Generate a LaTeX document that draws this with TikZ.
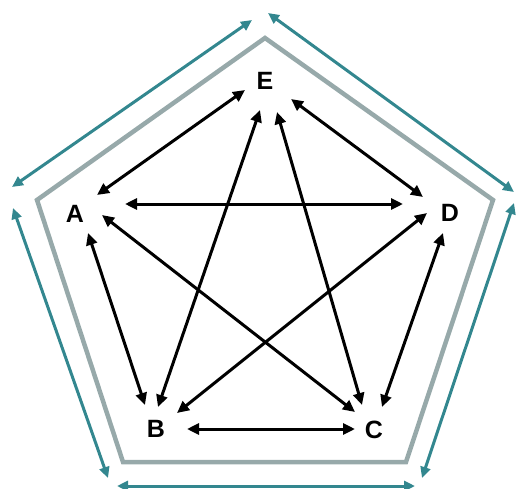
\documentclass[tikz,border=0pt]{standalone}
\usepackage{fontspec}
\setmainfont{Liberation Sans}
\usetikzlibrary{arrows.meta}
\definecolor{frameCol}{HTML}{97A9AA}
\definecolor{tealCol}{HTML}{33878F}

\begin{document}
\begin{tikzpicture}[
    x=1pt, y=-1pt,
    lbl/.style={inner sep=0pt, font=\fontsize{25}{29}\selectfont\bfseries},
    arr/.style={{Triangle[length=12pt,width=11pt]}-{Triangle[length=12pt,width=11pt]},
      line width=3pt, black},
    side/.style={{Triangle[length=11pt,width=10pt]}-{Triangle[length=11pt,width=10pt]},
      line width=3pt, tealCol},
  ]
\useasboundingbox (0,0) rectangle (516,489);

% Outer frame
\draw[frameCol, line width=4.5pt, line join=miter]
  (265,38) -- (493,200) -- (406,462) -- (123,462) -- (37,200) -- cycle;

% Corners of the teal arrows
\coordinate (t1a) at (12,187);  \coordinate (t1b) at (252,20);
\coordinate (t2a) at (268,13);  \coordinate (t2b) at (514,192);
\coordinate (t3a) at (514,203); \coordinate (t3b) at (422,478);
\coordinate (t4a) at (415,486); \coordinate (t4b) at (117,486);
\coordinate (t5a) at (108,478); \coordinate (t5b) at (13,208);

% Teal arrows round the frame
\draw[side] (t1a) -- (t1b);
\draw[side] (t2a) -- (t2b);
\draw[side] (t3a) -- (t3b);
\draw[side] (t4a) -- (t4b);
\draw[side] (t5a) -- (t5b);

% Vertices
\node[lbl] (E) at (265,81) {E};
\node[lbl] (A) at (75,214) {A};
\node[lbl] (D) at (450,213) {D};
\node[lbl] (B) at (156,429) {B};
\node[lbl] (C) at (374,430) {C};

% Links
\draw[arr] ([shift={(22,-19)}]A.center) -- ([shift={(-20,9)}]E.center);
\draw[arr] ([shift={(26,18)}]E.center) -- ([shift={(-27,-16)}]D.center);
\draw[arr] ([shift={(50,-10)}]A.center) -- ([shift={(-47,-9)}]D.center);
\draw[arr] ([shift={(27,1)}]A.center) -- ([shift={(-19,-18)}]C.center);
\draw[arr] ([shift={(13,19)}]A.center) -- ([shift={(-11,-24)}]B.center);
\draw[arr] ([shift={(-5,29)}]E.center) -- ([shift={(2,-22)}]B.center);
\draw[arr] ([shift={(12,31)}]E.center) -- ([shift={(-12,-25)}]C.center);
\draw[arr] ([shift={(-23,0)}]D.center) -- ([shift={(21,-16)}]B.center);
\draw[arr] ([shift={(-7,20)}]D.center) -- ([shift={(8,-23)}]C.center);
\draw[arr] ([shift={(31,0)}]B.center) -- ([shift={(-19,-1)}]C.center);

\end{tikzpicture}
\end{document}
